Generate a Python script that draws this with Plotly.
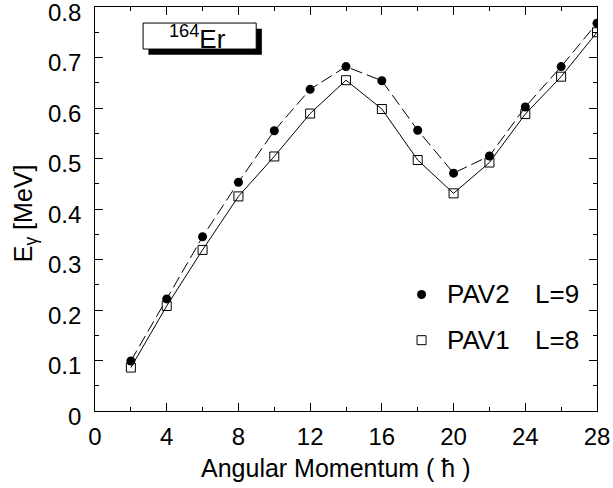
import plotly.graph_objects as go

# Angular momentum (in units of hbar) and transition energies (MeV)
spin = [2, 4, 6, 8, 10, 12, 14, 16, 18, 20, 22, 24, 26, 28]
pav2_l9 = [0.099, 0.222, 0.345, 0.453, 0.555, 0.637, 0.682, 0.654, 0.556,
           0.471, 0.505, 0.602, 0.682, 0.768]
pav1_l8 = [0.086, 0.208, 0.319, 0.425, 0.504, 0.589, 0.655, 0.598, 0.497,
           0.431, 0.492, 0.588, 0.662, 0.750]

x_ticks = [0, 4, 8, 12, 16, 20, 24, 28]
y_ticks = [0, 0.1, 0.2, 0.3, 0.4, 0.5, 0.6, 0.7, 0.8]
y_tick_text = ["0", "0.1", "0.2", "0.3", "0.4", "0.5", "0.6", "0.7", "0.8"]

FONT = "Liberation Sans, Arial, Helvetica, sans-serif"
FS = 24

fig = go.Figure()

fig.add_trace(go.Scatter(
    x=spin, y=pav2_l9, mode="lines+markers",
    line=dict(color="black", width=1, dash="12px,5px"),
    marker=dict(symbol="circle", size=9, color="black"),
    showlegend=False,
))
fig.add_trace(go.Scatter(
    x=spin, y=pav1_l8, mode="lines+markers",
    line=dict(color="black", width=1),
    marker=dict(symbol="square-open", size=9, color="black", line=dict(width=1)),
    showlegend=False,
))

# key symbols, placed on a unit overlay scale
fig.add_trace(go.Scatter(
    x=[0.6505], y=[0.2885], mode="markers", xaxis="x2", yaxis="y2",
    marker=dict(symbol="circle", size=9, color="black"), showlegend=False,
))
fig.add_trace(go.Scatter(
    x=[0.6505], y=[0.1753], mode="markers", xaxis="x2", yaxis="y2",
    marker=dict(symbol="square-open", size=9, color="black", line=dict(width=1)),
    showlegend=False,
))

axis_common = dict(
    showgrid=False, zeroline=False, showline=True, linecolor="black", linewidth=1,
    mirror="allticks", ticks="inside", ticklen=8, tickwidth=1, tickcolor="black",
    tickfont=dict(family=FONT, size=FS, color="black"),
    ticklabeloverflow="allow", automargin=False,
)

annotations = []
# value labels along the energy axis, set a touch below their ticks
for v, t in zip(y_ticks, y_tick_text):
    annotations.append(dict(
        text=t, xref="paper", yref="y", x=0, y=v, xanchor="right", yanchor="middle",
        xshift=-12, yshift=-4.5, height=20, valign="middle",
        showarrow=False, font=dict(family=FONT, size=FS),
    ))

annotations += [
    dict(text="E<sub>\u03b3</sub> [MeV]", xref="paper", yref="paper", x=-0.139, y=0.49,
         textangle=-90, showarrow=False, xanchor="center", yanchor="middle",
         font=dict(family=FONT, size=25)),
    dict(text="Angular Momentum ( \u0127 )", xref="paper", yref="paper", x=0.481, y=-0.142,
         showarrow=False, xanchor="center", yanchor="middle", font=dict(family=FONT, size=25)),
    dict(text="<sup>164</sup>Er", xref="paper", yref="paper", x=0.205, y=0.924,
         showarrow=False, xanchor="center", yanchor="middle", font=dict(family=FONT, size=26)),
    dict(text="PAV2", xref="paper", yref="paper", x=0.697, y=0.2885,
         showarrow=False, xanchor="left", yanchor="middle", font=dict(family=FONT, size=26)),
    dict(text="L=9", xref="paper", yref="paper", x=0.872, y=0.2885,
         showarrow=False, xanchor="left", yanchor="middle", font=dict(family=FONT, size=26)),
    dict(text="PAV1", xref="paper", yref="paper", x=0.697, y=0.1753,
         showarrow=False, xanchor="left", yanchor="middle", font=dict(family=FONT, size=26)),
    dict(text="L=8", xref="paper", yref="paper", x=0.872, y=0.1753,
         showarrow=False, xanchor="left", yanchor="middle", font=dict(family=FONT, size=26)),
]

fig.update_layout(
    width=613, height=488,
    margin=dict(l=94.5, r=15.5, t=7.3, b=77.3, autoexpand=False),
    paper_bgcolor="white", plot_bgcolor="white",
    font=dict(family=FONT, size=FS, color="black"),
    xaxis=dict(
        range=[0, 28], tickvals=x_ticks, ticklabelstandoff=4,
        minor=dict(dtick=2, tick0=0, ticks="inside", ticklen=4, tickcolor="black", tickwidth=1),
        **axis_common,
    ),
    yaxis=dict(
        range=[0, 0.80001], tickvals=y_ticks, showticklabels=False,
        minor=dict(dtick=0.05, tick0=0, ticks="inside", ticklen=4, tickcolor="black", tickwidth=1),
        **axis_common,
    ),
    xaxis2=dict(range=[0, 1], overlaying="x", visible=False),
    yaxis2=dict(range=[0, 1], overlaying="y", visible=False),
    shapes=[
        dict(type="rect", xref="paper", yref="paper", x0=0.1064, x1=0.3324, y0=0.8818, y1=0.946,
             fillcolor="black", line=dict(width=0), layer="above"),
        dict(type="rect", xref="paper", yref="paper", x0=0.0958, x1=0.3211, y0=0.8959, y1=0.9603,
             fillcolor="white", line=dict(color="black", width=1), layer="above"),
    ],
    annotations=annotations,
)

fig.write_html("out.html")
